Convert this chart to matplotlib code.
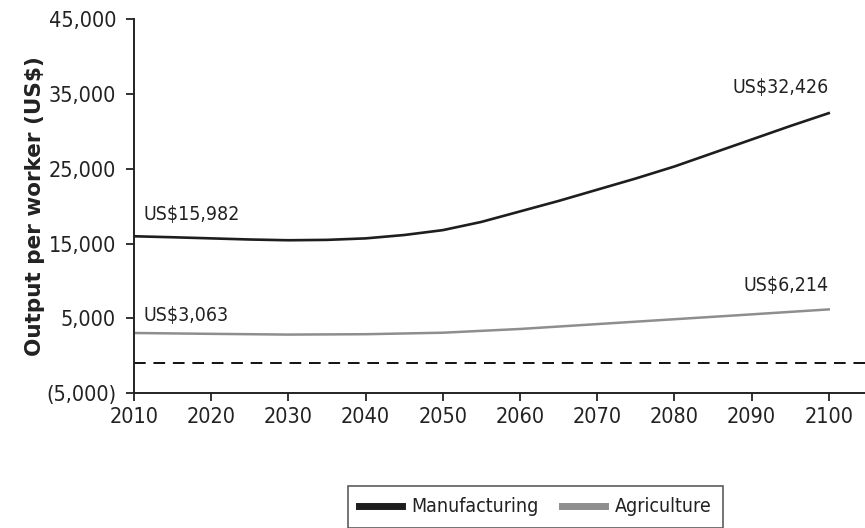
import numpy as np
import matplotlib
matplotlib.use("Agg")
import matplotlib.pyplot as plt
from matplotlib.ticker import FuncFormatter

# data
years_mfg = [2010, 2015, 2020, 2025, 2030, 2035, 2040, 2045, 2050, 2055,
             2060, 2065, 2070, 2075, 2080, 2085, 2090, 2095, 2100]
manufacturing = [15982, 15850, 15700, 15550, 15450, 15500, 15700, 16150, 16800, 17900,
                 19300, 20700, 22200, 23700, 25300, 27100, 28900, 30700, 32426]
years_agr = [2010, 2020, 2030, 2040, 2050, 2060, 2070, 2080, 2090, 2100]
agriculture = [3063, 2950, 2850, 2900, 3100, 3600, 4250, 4900, 5550, 6214]
reference_level = -1000
x_ticks = list(range(2010, 2101, 10))
y_ticks = list(range(-5000, 45001, 10000))

TXT = "#222222"
FONT = dict(family="DejaVu Sans", stretch="condensed", size=14)

fig = plt.figure(figsize=(8.65, 5.28), dpi=100)
ax = fig.add_axes([0.155, 0.255, 0.845, 0.709])

l1, = ax.plot(years_mfg, manufacturing, color="#1e1e1e", lw=1.9, label="Manufacturing")
l2, = ax.plot(years_agr, agriculture, color="#8e8e8e", lw=1.8, label="Agriculture")
ax.axhline(reference_level, color="#111111", lw=1.4, ls=(0, (6, 4)))

# end point labels
ax.text(2011.2, 18200, "US$15,982", color=TXT, va="baseline", **FONT)
ax.text(2011.2, 4600, "US$3,063", color=TXT, va="baseline", **FONT)
ax.text(2100, 35100, "US$32,426", color=TXT, va="baseline", ha="right", **FONT)
ax.text(2100, 8720, "US$6,214", color=TXT, va="baseline", ha="right", **FONT)

ax.set_xlim(2010, 2104.7)
ax.set_ylim(-5000, 45000)
ax.set_xticks(x_ticks)
ax.set_yticks(y_ticks)


def fmt(v, pos):
    if v < 0:
        return "({:,.0f})".format(-v)
    return "{:,.0f}".format(v)


ax.yaxis.set_major_formatter(FuncFormatter(fmt))
for lab in ax.get_xticklabels() + ax.get_yticklabels():
    lab.set_family(FONT["family"])
    lab.set_stretch(FONT["stretch"])
    lab.set_fontsize(15.5)
    lab.set_color(TXT)

ax.tick_params(direction="out", length=6, width=1.3, color="#222222", pad=4)
ax.tick_params(axis="y", pad=7)
for s in ["top", "right"]:
    ax.spines[s].set_visible(False)
for s in ["left", "bottom"]:
    ax.spines[s].set_linewidth(1.4)
    ax.spines[s].set_color("#222222")

ax.set_ylabel("Output per worker (US$)", fontsize=15.5, fontweight="bold",
              family="DejaVu Sans", color=TXT)
ax.yaxis.set_label_coords(-0.122, 0.5)

leg = fig.legend(handles=[l1, l2], loc="upper center", bbox_to_anchor=(0.619, 0.08),
                 ncol=2, frameon=True, fancybox=False, edgecolor="#333333",
                 handlelength=2.2, handletextpad=0.5, columnspacing=1.2,
                 prop={"family": "DejaVu Sans", "stretch": "condensed", "size": 14},
                 borderpad=0.6, borderaxespad=0)
leg.get_frame().set_linewidth(1.2)
for h in leg.legend_handles:
    h.set_linewidth(5)
for t in leg.get_texts():
    t.set_color(TXT)

fig.savefig("out.png", dpi=100)
